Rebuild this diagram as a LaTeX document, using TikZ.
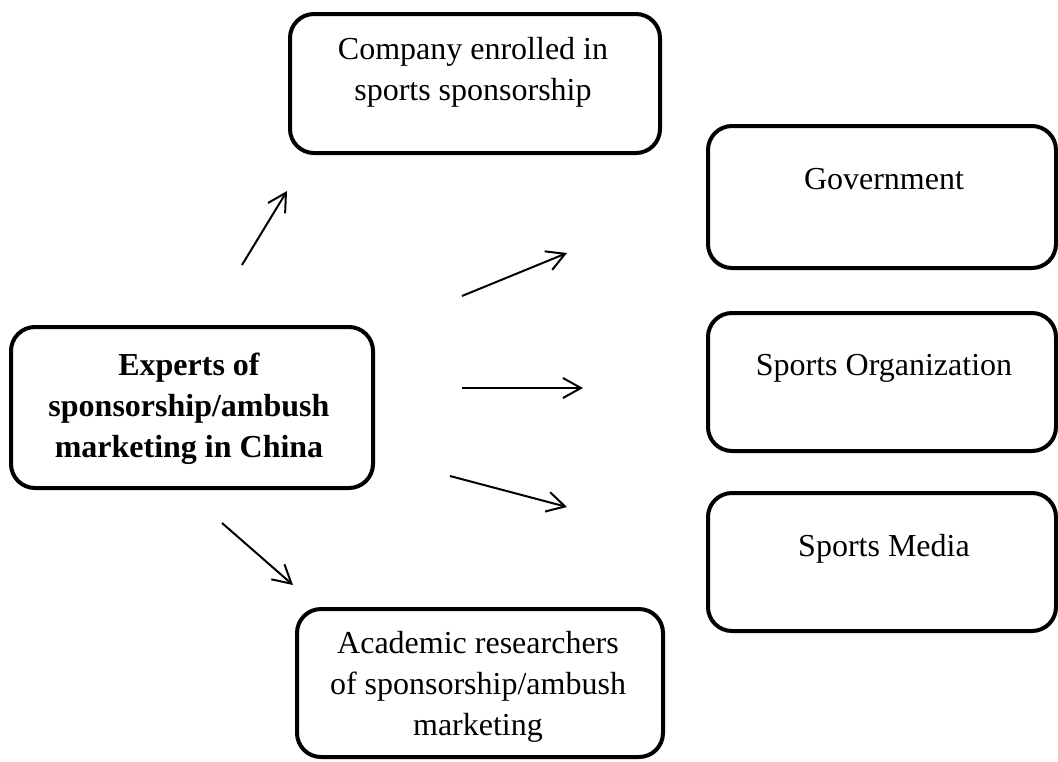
\documentclass[tikz,border=0pt]{standalone}
\usepackage{fontspec}
\setmainfont{Liberation Serif}
\usetikzlibrary{arrows.meta}
\begin{document}
\begin{tikzpicture}[x=1pt,y=-1pt,
  box/.style={draw, line width=4pt, rounded corners=24pt, anchor=north west, inner sep=0pt},
  txt/.style={font=\fontsize{32}{41}\selectfont, align=center, anchor=base, inner sep=0pt},
  arr/.style={line width=2pt, -{Straight Barb[length=18pt,width=20pt,line width=2pt]}}]
\useasboundingbox (0,0) rectangle (1058,761);
% boxes
\node[box, minimum width=370pt, minimum height=139pt] (company) at (288,12) {};
\node[box, minimum width=348pt, minimum height=142pt] (gov) at (706,124) {};
\node[box, minimum width=348pt, minimum height=138pt] (org) at (706,311) {};
\node[box, minimum width=348pt, minimum height=138pt] (media) at (706,491) {};
\node[box, minimum width=362pt, minimum height=161pt] (experts) at (9,325) {};
\node[box, minimum width=366pt, minimum height=148pt] (academic) at (295,607) {};
% texts (base anchor = baseline of the last line)
\node[txt] (tcompany) at (473,100) {Company enrolled in\\sports sponsorship};
\node[txt] (tgov) at (884,189) {Government};
\node[txt] (torg) at (884,375) {Sports Organization};
\node[txt] (tmedia) at (884,556) {Sports Media};
\node[txt, font=\fontsize{32}{41}\selectfont\bfseries] (texperts) at (189,457) {Experts of\\sponsorship/ambush\\marketing in China};
\node[txt] (tacademic) at (478,735) {Academic researchers\\of sponsorship/ambush\\marketing};
% arrow ends
\coordinate (a1s) at (242,265); \coordinate (a1e) at (287,191);
\coordinate (a2s) at (462,296); \coordinate (a2e) at (567,253);
\coordinate (a3s) at (462,388); \coordinate (a3e) at (583,388);
\coordinate (a4s) at (450,476); \coordinate (a4e) at (567,507);
\coordinate (a5s) at (222,523); \coordinate (a5e) at (293,585);
\draw[arr] (a1s) -- (a1e);
\draw[arr] (a2s) -- (a2e);
\draw[arr] (a3s) -- (a3e);
\draw[arr] (a4s) -- (a4e);
\draw[arr] (a5s) -- (a5e);
\end{tikzpicture}
\end{document}
